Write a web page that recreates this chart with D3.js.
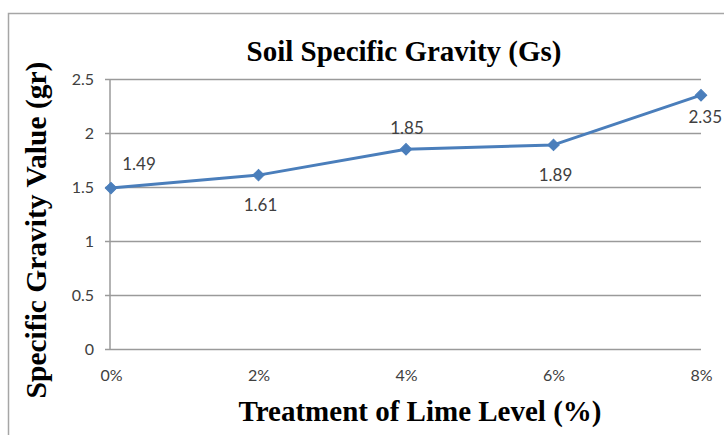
<!DOCTYPE html>
<html>
<head>
<meta charset="utf-8">
<script src="https://cdn.jsdelivr.net/npm/d3@7"></script>
<style>
  body { margin: 0; background: #fff; }
  .tick text { font-family: Lato, "Open Sans", sans-serif; fill: #404040; }
</style>
</head>
<body>
<svg id="chart" width="724" height="435"></svg>
<script>
// values
var limeLevels = ['0%', '2%', '4%', '6%', '8%'];
var gsValues = [1.49, 1.61, 1.85, 1.89, 2.35];
var yTicks = [0, 0.5, 1, 1.5, 2, 2.5];

var titleText = 'Soil Specific Gravity (Gs)';
var xTitleText = 'Treatment of Lime Level (%)';
var yTitleText = 'Specific Gravity Value (gr)';

// where each data label sits relative to its point (excel put them a bit all over)
var labelSpots = {
	aboveRight: [28, -24, 'middle'],
	above: [1, -21, 'middle'],
	below: [2, 30, 'middle'],
	belowRight: [21, 22, 'end']   // last one hugs the right edge
};
var labelPlace = ['aboveRight', 'below', 'above', 'below', 'belowRight'];

var svg = d3.select('#chart');

// outer chart frame, cut off at right/bottom like the screenshot
svg.append('rect')
	.attr('x', 8.5).attr('y', 13.5)
	.attr('width', 800).attr('height', 500)
	.attr('fill', 'none')
	.attr('stroke', '#a6a6a6')
	.attr('stroke-width', 1.5);

var x = d3.scalePoint().domain(limeLevels).range([111, 701]);
var y = d3.scaleLinear().domain([0, 2.5]).range([349, 79]);

// y axis + gridlines (ticks run across the plot)
var yAxis = d3.axisLeft(y)
	.tickValues(yTicks)
	.tickFormat(function(d) { return d; })
	.tickSizeInner(-(701 - 105))
	.tickSizeOuter(0)
	.tickPadding(11);

var gy = svg.append('g')
	.attr('transform', 'translate(105,0)')
	.call(yAxis);
gy.select('.domain').remove();
gy.selectAll('.tick line')
	.attr('stroke', '#9a9a9a')
	.attr('stroke-width', 1.5);
gy.selectAll('.tick text')
	.style('font-size', '16px');

// vertical axis line
svg.append('line')
	.attr('x1', 110).attr('x2', 110)
	.attr('y1', y(2.5)).attr('y2', y(0))
	.attr('stroke', '#9a9a9a')
	.attr('stroke-width', 1.5);

// x axis labels
var xAxis = d3.axisBottom(x).tickSize(0).tickPadding(21);
var gx = svg.append('g')
	.attr('transform', 'translate(0,349)')
	.call(xAxis);
gx.select('.domain').remove();
gx.selectAll('.tick text')
	.style('font-size', '16px');

// series line
var pts = limeLevels.map(function(l, i) { return { lvl: l, v: gsValues[i], i: i }; });

var line = d3.line()
	.x(function(d) { return x(d.lvl); })
	.y(function(d) { return y(d.v); });

svg.append('path')
	.datum(pts)
	.attr('d', line)
	.attr('fill', 'none')
	.attr('stroke', '#4a7ebb')
	.attr('stroke-width', 3)
	.attr('stroke-linejoin', 'round');

// diamond markers
var diamond = d3.symbol().type(d3.symbolSquare).size(66);
svg.selectAll('.marker')
	.data(pts)
	.enter().append('path')
	.attr('class', 'marker')
	.attr('d', diamond)
	.attr('transform', function(d) {
		return 'translate(' + x(d.lvl) + ',' + y(d.v) + ') rotate(45)';
	})
	.attr('fill', '#4a7ebb')
	.attr('stroke', '#4a7ebb')
	.attr('stroke-width', 1);

// data labels
svg.selectAll('.dlabel')
	.data(pts)
	.enter().append('text')
	.attr('class', 'dlabel')
	.attr('x', function(d) { return x(d.lvl) + labelSpots[labelPlace[d.i]][0]; })
	.attr('y', function(d) { return y(d.v) + labelSpots[labelPlace[d.i]][1]; })
	.attr('dy', '0.35em')
	.attr('text-anchor', function(d) { return labelSpots[labelPlace[d.i]][2]; })
	.style('font-family', 'Lato, "Open Sans", sans-serif')
	.style('font-size', '17px')
	.style('fill', '#404040')
	.text(function(d) { return d.v; });

// titles
svg.append('text')
	.attr('x', 404).attr('y', 61)
	.attr('text-anchor', 'middle')
	.style('font-family', '"Liberation Serif", "Times New Roman", serif')
	.style('font-weight', 'bold')
	.style('font-size', '29px')
	.text(titleText);

svg.append('text')
	.attr('x', 420).attr('y', 421)
	.attr('text-anchor', 'middle')
	.style('font-family', '"Liberation Serif", "Times New Roman", serif')
	.style('font-weight', 'bold')
	.style('font-size', '29px')
	.text(xTitleText);

svg.append('text')
	.attr('transform', 'translate(46,230) rotate(-90)')
	.attr('text-anchor', 'middle')
	.style('font-family', '"Liberation Serif", "Times New Roman", serif')
	.style('font-weight', 'bold')
	.style('font-size', '29.5px')
	.text(yTitleText);
</script>
</body>
</html>
